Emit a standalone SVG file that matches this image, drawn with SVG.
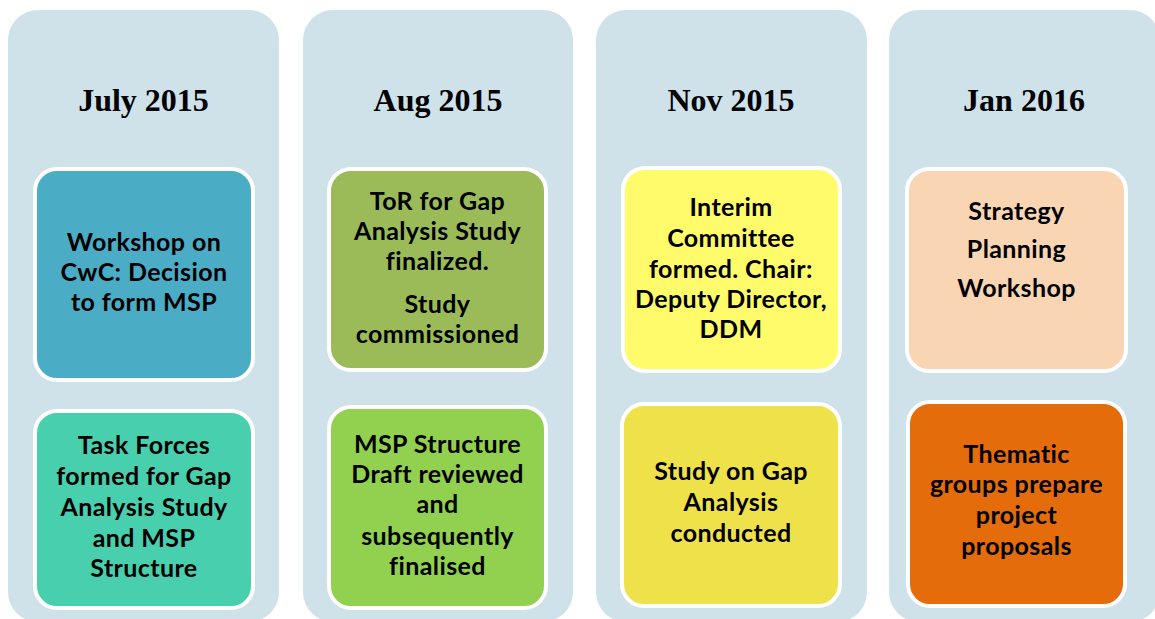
<svg xmlns="http://www.w3.org/2000/svg" width="1155" height="619" viewBox="0 0 1155 619">
<style>
.col{fill:#CFE2EA}
.hdr{font-family:"Liberation Serif","Times New Roman",serif;font-weight:bold;font-size:32px;fill:#000;text-anchor:middle}
.box{stroke:#FFFFFF;stroke-width:4}
.t{font-family:Lato,"Liberation Sans",sans-serif;font-weight:bold;font-size:25px;letter-spacing:0.4px;fill:#000;text-anchor:middle}
</style>
<rect width="1155" height="619" fill="#FFFFFF"/>
<g id="columns">
<rect class="col" x="8" y="10" width="271" height="612" rx="30"/>
<rect class="col" x="303" y="10" width="270" height="612" rx="30"/>
<rect class="col" x="596" y="10" width="271" height="612" rx="30"/>
<rect class="col" x="889" y="10" width="271" height="612" rx="30"/>
</g>
<g id="headers">
<text class="hdr" x="143.5" y="111">July 2015</text>
<text class="hdr" x="438" y="111">Aug 2015</text>
<text class="hdr" x="731" y="111">Nov 2015</text>
<text class="hdr" x="1024" y="111">Jan 2016</text>
</g>
<g id="n1">
<rect class="box" x="35" y="169" width="218" height="211" rx="22" fill="#4BACC6"/>
<text class="t" x="144"><tspan x="144" y="251">Workshop on</tspan><tspan x="144" y="281">CwC: Decision</tspan><tspan x="144" y="311">to form MSP</tspan></text>
</g>
<g id="n2">
<rect class="box" x="35" y="411" width="218" height="197" rx="22" fill="#48D0AE"/>
<text class="t" x="144"><tspan x="144" y="454">Task Forces</tspan><tspan x="144" y="485">formed for Gap</tspan><tspan x="144" y="516">Analysis Study</tspan><tspan x="144" y="547">and MSP</tspan><tspan x="144" y="577">Structure</tspan></text>
</g>
<g id="n3">
<rect class="box" x="329" y="169" width="217" height="201" rx="22" fill="#9BBB59"/>
<text class="t" x="437.5"><tspan x="437.5" y="210">ToR for Gap</tspan><tspan x="437.5" y="240">Analysis Study</tspan><tspan x="437.5" y="270">finalized.</tspan><tspan x="437.5" y="313">Study</tspan><tspan x="437.5" y="343">commissioned</tspan></text>
</g>
<g id="n4">
<rect class="box" x="329" y="407" width="217" height="201" rx="22" fill="#92D050"/>
<text class="t" x="437.5"><tspan x="437.5" y="453">MSP Structure</tspan><tspan x="437.5" y="483">Draft reviewed</tspan><tspan x="437.5" y="513">and</tspan><tspan x="437.5" y="545">subsequently</tspan><tspan x="437.5" y="575">finalised</tspan></text>
</g>
<g id="n5">
<rect class="box" x="623" y="168" width="217" height="203" rx="22" fill="#FFFB6B"/>
<text class="t" x="731"><tspan x="731" y="216">Interim</tspan><tspan x="731" y="247">Committee</tspan><tspan x="731" y="278">formed. Chair:</tspan><tspan x="731" y="308">Deputy Director,</tspan><tspan x="731" y="338">DDM</tspan></text>
</g>
<g id="n6">
<rect class="box" x="622" y="404" width="218" height="202" rx="22" fill="#EFE14A"/>
<text class="t" x="731"><tspan x="731" y="480">Study on Gap</tspan><tspan x="731" y="511">Analysis</tspan><tspan x="731" y="542">conducted</tspan></text>
</g>
<g id="n7">
<rect class="box" x="907" y="169" width="219" height="202" rx="22" fill="#FAD5B4"/>
<text class="t" x="1016.5"><tspan x="1016.5" y="220">Strategy</tspan><tspan x="1016.5" y="258">Planning</tspan><tspan x="1016.5" y="297">Workshop</tspan></text>
</g>
<g id="n8">
<rect class="box" x="908" y="402" width="217" height="204" rx="22" fill="#E46C0A"/>
<text class="t" x="1016.5"><tspan x="1016.5" y="463">Thematic</tspan><tspan x="1016.5" y="493">groups prepare</tspan><tspan x="1016.5" y="524">project</tspan><tspan x="1016.5" y="555">proposals</tspan></text>
</g>
<g id="connectors"/>
</svg>
